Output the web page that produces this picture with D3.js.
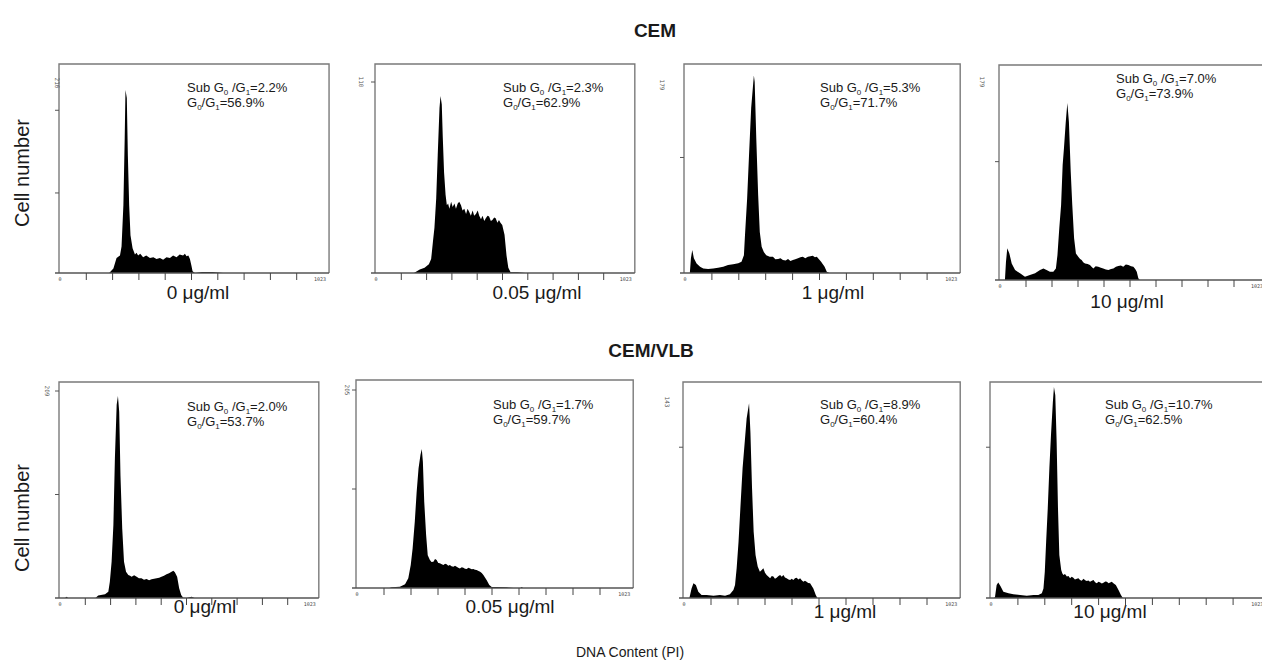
<!DOCTYPE html>
<html>
<head>
<meta charset="utf-8">
<script src="https://cdn.jsdelivr.net/npm/d3@7"></script>
<style>
  body { margin: 0; background: #fff; }
  svg { display: block; font-family: "Liberation Sans", Arial, sans-serif; }
</style>
</head>
<body>
<svg id="chart" width="1262" height="666"></svg>
<script>
// values
const groups = ["CEM", "CEM/VLB"];
const doses = ["0 μg/ml", "0.05 μg/ml", "1 μg/ml", "10 μg/ml"];
const subG0G1 = [2.2, 2.3, 5.3, 7.0, 2.0, 1.7, 8.9, 10.7];
const g0G1 = [56.9, 62.9, 71.7, 73.9, 53.7, 59.7, 60.4, 62.5];
const yMaxLabels = [216, 110, 179, 179, 209, 205, 143, null];
const yMaxValues = [216, 110, 179, 179, 209, 205, 143, 143];
const yTickValues = [[91, 185], [110], [110], [107], [104.5, 209], [102.5, 205], [110], [110]];
const xTickValues = [100, 200, 300, 400, 500, 600, 700, 800, 900];
const channelMax = 1023;

// histograms: [channel, cell count]
const histCEM0 = [[187,0],[203,5],[215,17],[228,20],[234,30],[241,77],[246,153],[249,208],[254,199],[258,134],[263,77],[268,43],[276,28],[285,21],[291,23],[297,20],[305,22],[316,18],[328,20],[342,17],[355,18],[367,16],[380,17],[392,15],[405,18],[418,17],[430,20],[443,18],[455,21],[468,20],[475,22],[481,19],[488,20],[494,16],[500,8],[504,2],[513,0],[540,1],[580,1],[620,0]];
const histCEM005 = [[150,0],[173,2],[192,3],[209,5],[218,8],[225,18],[231,26],[238,43],[244,68],[251,95],[255,102],[260,97],[264,78],[269,58],[275,45],[280,39],[285,40],[290,37],[297,41],[303,38],[310,40],[316,37],[323,40],[329,41],[336,39],[342,36],[349,37],[356,34],[362,37],[369,35],[375,33],[382,36],[388,33],[395,34],[402,36],[408,33],[415,31],[421,33],[428,30],[434,31.5],[441,33],[447,32.5],[454,30],[460,30.5],[467,32],[473,31.5],[480,29],[486,30.5],[492,29],[499,27.6],[508,22],[516,10],[523,3],[532,0.5],[560,0.5],[591,0]];
const histCEM1 = [[18,0],[22,14],[27,22],[33,14],[43,9],[56,6],[68,4.4],[86,3.8],[105,4.4],[123,5],[142,6],[160,7.6],[179,8.3],[198,9.2],[210,10.8],[219,17],[223,36],[231,71],[238,112],[246,157],[256,188],[259,182],[265,128],[272,74],[278,39],[285,25],[293,20],[302,17],[315,15.5],[327,15.5],[336,13],[346,13.3],[355,14],[364,12.4],[374,12],[383,13.3],[392,11.5],[401,12.4],[410,13],[420,14],[429,15],[438,15.5],[447,14],[457,15.5],[466,16],[475,16.5],[483,15],[490,15.5],[498,13],[506,10.8],[519,6],[527,1.3],[537,0]];
const histCEM10 = [[19,0],[23,16.6],[28,28.6],[36,24],[45,15],[58,9],[77,6],[96,3],[115,4.5],[135,6],[154,9],[167,10.5],[179,9],[192,7.5],[205,7.5],[215,10.5],[221,22.6],[228,46.7],[235,67.8],[241,104],[246,119],[253,143],[259,160],[265,143],[272,98],[278,67.8],[285,37.7],[292,24],[301,21],[308,19],[314,18],[320,16],[327,15],[337,14.5],[346,13.6],[352,12],[359,10.5],[368,12.5],[378,12],[388,11],[397,10.5],[407,9.5],[417,9],[427,10],[436,10.5],[446,12],[455,12.7],[465,13],[474,12],[484,14],[494,13.6],[504,12.5],[513,12],[520,10],[526,7.5],[532,1.5],[538,0]];
const histVLB0 = [[20,0],[26,1.3],[32,0],[140,0],[151,2.4],[178,3.7],[191,6.4],[197,16.5],[204,36.7],[211,73.7],[217,141],[224,195],[229,204],[234,188],[239,124],[246,70],[253,36.7],[261,26.6],[270,23.2],[277,22.5],[283,21.5],[293,23],[303,21.5],[312,20],[322,19.9],[332,18.5],[342,19.2],[352,18],[362,18.9],[372,19.5],[382,19.9],[392,20.5],[401,21.5],[411,22.5],[421,23.9],[431,25],[441,26.6],[448,27.5],[454,25.9],[463,21.5],[471,9.8],[479,3],[487,0.3],[500,0],[520,1.3],[532,0]];
const histVLB005 = [[120,0],[128,0.7],[159,1.4],[178,3.8],[190,10],[199,23.8],[206,41],[214,68.6],[221,99.7],[228,124],[235,137.7],[240,144],[244,130.7],[249,89.3],[256,54.9],[262,34],[270,29],[276,27],[283,27.2],[289,30],[295,29],[301,26],[307,25.5],[314,24.5],[320,23.8],[326,25],[332,24.5],[338,23],[344,23.8],[350,22.5],[357,22],[363,23],[369,22],[375,21],[381,20.3],[388,21.5],[394,21],[400,20],[406,19.7],[413,21],[419,20.3],[425,19.5],[431,19.7],[437,19],[443,18.6],[450,17.5],[456,16.9],[462,15.5],[468,13.5],[480,8.3],[490,3.1],[499,1],[517,1],[554,0.7],[580,0],[605,0],[610,1],[615,0]];
const histVLB1 = [[20,0],[28,7],[35,10.7],[44,9.5],[53,4.6],[65,2.2],[84,2.2],[109,1.7],[133,2.2],[152,1.7],[170,2.7],[183,5.8],[189,9.5],[195,21.7],[202,41],[210,70],[217,94.7],[225,114],[232,131],[241,142],[246,121],[252,80],[258,48.4],[265,31.4],[273,22.9],[281,19.2],[288,20.5],[294,21.7],[300,18.5],[306,16.8],[313,15.5],[319,14.4],[325,16],[331,15.6],[337,14],[343,14.8],[350,16],[356,16.8],[362,15.5],[368,16.8],[374,15],[380,14.4],[387,13.5],[393,13.1],[399,14],[405,13.1],[411,14.5],[417,14.8],[424,13.5],[430,14.4],[436,13],[442,11.9],[448,12.5],[454,11.9],[460,11],[467,10.7],[479,7],[488,2.2],[494,0]];
const histVLB10 = [[12,0],[15,1],[21,9.5],[27,11.4],[36,8.3],[46,4.6],[65,3.4],[83,2.7],[108,2.2],[133,1.7],[158,2.2],[176,2.2],[189,3.4],[195,7],[200,19.2],[205,41],[211,65.5],[217,94.7],[223,119],[230,143],[234,154],[239,148],[244,114],[249,65.5],[254,31.4],[261,20.4],[265,18],[269,16.8],[275,17.5],[282,15.6],[288,16],[294,14.4],[300,15.5],[306,14.8],[312,13.5],[319,14],[325,14.5],[331,13.1],[337,12.5],[344,14],[350,13],[356,12.4],[362,12.8],[368,11.9],[375,12.5],[381,13.1],[387,11.5],[393,10.7],[400,11.8],[406,11.4],[412,10.5],[418,11.2],[425,12],[431,11.9],[437,10.8],[443,11.4],[449,11.8],[455,10.7],[464,9.5],[474,5.8],[483,2.2],[490,0]];
const histograms = [histCEM0, histCEM005, histCEM1, histCEM10, histVLB0, histVLB005, histVLB1, histVLB10];

// panel placement on the page
const boxes = [
  {x0: 60, step: 26.3, top: 64, base: 273, yTop: 83, doseX: 198, doseY: 299, noteX: 187, noteY: 92, yLabX: 55},
  {x0: 376, step: 25.3, top: 64, base: 273, yTop: 82, doseX: 537, doseY: 299, noteX: 503, noteY: 92, yLabX: 359},
  {x0: 685, step: 26.9, top: 64, base: 273, yTop: 85, doseX: 833, doseY: 299, noteX: 820, noteY: 92, yLabX: 660},
  {x0: 1000, step: 26.0, top: 65, base: 280, yTop: 82, doseX: 1127, doseY: 308, noteX: 1116, noteY: 83, yLabX: 980},
  {x0: 60, step: 25.3, top: 382, base: 598, yTop: 391, doseX: 205, doseY: 613, noteX: 187, noteY: 411, yLabX: 45},
  {x0: 357, step: 27.0, top: 380, base: 588, yTop: 390, doseX: 510, doseY: 613, noteX: 493, noteY: 409, yLabX: 345},
  {x0: 684, step: 27.0, top: 382, base: 598, yTop: 402, doseX: 845, doseY: 618, noteX: 820, noteY: 409, yLabX: 665},
  {x0: 991, step: 26.9, top: 382, base: 598, yTop: 402, doseX: 1110, doseY: 618, noteX: 1105, noteY: 409, yLabX: 975}
];

const svg = d3.select("#chart");
const ink = "#1a1a1a";
const frameColor = "#7a7a7a";

// Titles
svg.append("text").attr("x", 655).attr("y", 37).attr("text-anchor", "middle")
  .attr("font-size", 19).attr("font-weight", "bold").attr("fill", ink).text(groups[0]);
svg.append("text").attr("x", 651).attr("y", 357).attr("text-anchor", "middle")
  .attr("font-size", 19).attr("font-weight", "bold").attr("fill", ink).text(groups[1]);

[173, 518].forEach(cy => {
  svg.append("text").attr("transform", `translate(29,${cy}) rotate(-90)`)
    .attr("text-anchor", "middle").attr("font-size", 20).attr("fill", ink).text("Cell number");
});

svg.append("text").attr("x", 630).attr("y", 657).attr("text-anchor", "middle")
  .attr("font-size", 14).attr("fill", ink).text("DNA Content (PI)");

histograms.forEach((hist, i) => {
  const b = boxes[i];
  const x = d3.scaleLinear().domain([0, channelMax]).range([b.x0, b.x0 + b.step * channelMax / 100]);
  const y = d3.scaleLinear().domain([0, yMaxValues[i]]).range([b.base, b.yTop]);
  const g = svg.append("g");
  const right = x(channelMax);

  // frame
  g.append("path")
    .attr("d", `M${b.x0 - 1},${b.base}V${b.top}H${right}V${b.base}`)
    .attr("fill", "none").attr("stroke", frameColor).attr("stroke-width", 1.4);

  // histogram
  const area = d3.area()
    .x(d => x(d[0]))
    .y0(b.base)
    .y1(d => y(d[1]));
  g.append("path").datum(hist).attr("d", area).attr("fill", "#000");

  // x axis
  g.append("line").attr("x1", b.x0 - 5).attr("x2", right).attr("y1", b.base).attr("y2", b.base)
    .attr("stroke", "#555").attr("stroke-width", 1.3);
  g.selectAll(".xt").data(xTickValues).enter().append("line")
    .attr("x1", d => x(d)).attr("x2", d => x(d))
    .attr("y1", b.base).attr("y2", b.base + 7)
    .attr("stroke", "#444").attr("stroke-width", 1);
  g.append("text").attr("x", x(0)).attr("y", b.base + 8).attr("text-anchor", "middle")
    .attr("font-size", 5).attr("font-family", "DejaVu Sans Mono").attr("fill", "#444").text("0");
  g.append("text").attr("x", right - 9).attr("y", b.base + 8).attr("text-anchor", "middle")
    .attr("font-size", 5).attr("font-family", "DejaVu Sans Mono").attr("fill", "#444").text(String(channelMax));

  // y ticks
  g.selectAll(".yt").data(yTickValues[i]).enter().append("line")
    .attr("x1", b.x0 - 5).attr("x2", b.x0 - 1)
    .attr("y1", d => y(d)).attr("y2", d => y(d))
    .attr("stroke", "#555").attr("stroke-width", 1);
  if (yMaxLabels[i] !== null) {
    g.append("text").attr("transform", `translate(${b.yLabX},${b.yTop}) rotate(90)`)
      .attr("text-anchor", "middle").attr("font-size", 6).attr("font-family", "DejaVu Sans Mono")
      .attr("fill", "#555").text(yMaxLabels[i]);
  }

  // dose label
  g.append("text").attr("x", b.doseX).attr("y", b.doseY).attr("text-anchor", "middle")
    .attr("font-size", 19).attr("fill", ink).text(doses[i % 4]);

  // phase percentages
  const note = g.append("text").attr("x", b.noteX).attr("y", b.noteY)
    .attr("font-size", 13).attr("fill", ink);
  note.append("tspan").text("Sub G");
  note.append("tspan").attr("font-size", 8).attr("dy", 2.5).text("0");
  note.append("tspan").attr("dy", -2.5).text(" /G");
  note.append("tspan").attr("font-size", 8).attr("dy", 2.5).text("1");
  note.append("tspan").attr("dy", -2.5).text(`=${subG0G1[i].toFixed(1)}%`);

  const note2 = g.append("text").attr("x", b.noteX).attr("y", b.noteY + 15)
    .attr("font-size", 13).attr("fill", ink);
  note2.append("tspan").text("G");
  note2.append("tspan").attr("font-size", 8).attr("dy", 2.5).text("0");
  note2.append("tspan").attr("dy", -2.5).text("/G");
  note2.append("tspan").attr("font-size", 8).attr("dy", 2.5).text("1");
  note2.append("tspan").attr("dy", -2.5).text(`=${g0G1[i].toFixed(1)}%`);
});
</script>
</body>
</html>
